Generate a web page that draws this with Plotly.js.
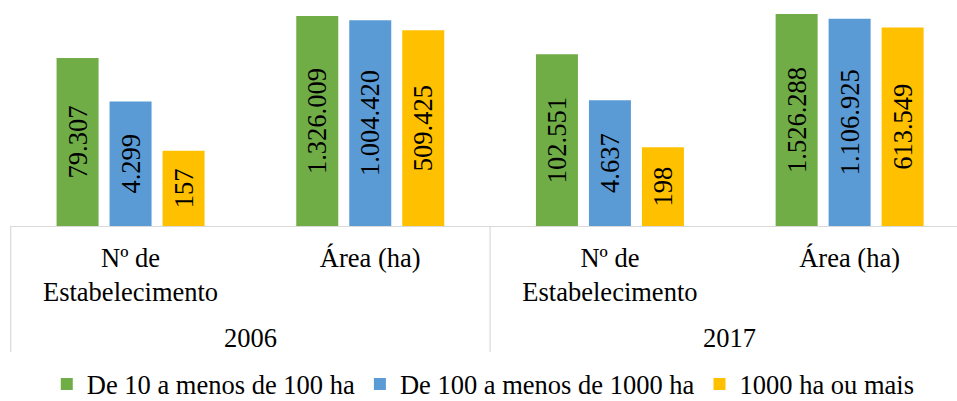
<!DOCTYPE html>
<html>
<head>
<meta charset="utf-8">
<script src="https://cdn.plot.ly/plotly-3.0.1.min.js"></script>
<style>
  html, body { margin: 0; padding: 0; background: #fff; }
  #chart { width: 957px; height: 401px; }
</style>
</head>
<body>
<div id="chart"></div>
<script>
// Census years and the two measures reported for each
const years = ['2006', '2017'];
const measures = ['Nº de<br>Estabelecimento', 'Área (ha)', 'Nº de<br>Estabelecimento', 'Área (ha)'];
const slots = [0, 1, 2, 3];

// Size classes of rural properties
const seriesNames = ['De 10 a menos de 100 ha', 'De 100 a menos de 1000 ha', '1000 ha ou mais'];
const small = [79307, 1326009, 102551, 1526288];
const medium = [4299, 1004420, 4637, 1106925];
const large = [157, 509425, 198, 613549];
const seriesColors = ['#70AD47', '#5B9BD5', '#FFC000'];

const FONT = '"Liberation Serif", Tinos, "Times New Roman", Times, serif';
const FS = 26.5;
const GRID = '#D9D9D9';

const values = [small, medium, large];
const traces = values.map((v, i) => ({
  type: 'bar',
  name: seriesNames[i],
  x: slots,
  y: v,
  marker: { color: seriesColors[i] },
  texttemplate: '%{y:,.0f}',
  textposition: 'inside',
  insidetextanchor: 'middle',
  textangle: -90,
  textfont: { family: FONT, size: FS, color: '#000' },
  hoverinfo: 'skip'
}));

// Year captions under each pair of measures, and the frame dividers between years
const yearCenters = years.map((_, i) => i * 2 + 0.5);
const annotations = years.map((yr, i) => ({
  text: yr,
  xref: 'x',
  yref: 'paper',
  x: yearCenters[i],
  y: -0.497,
  xanchor: 'center',
  yanchor: 'middle',
  showarrow: false,
  font: { family: FONT, size: FS, color: '#000' }
}));
const dividerPos = [-0.5, 1.5, 3.5];
const shapes = dividerPos.map(p => ({
  type: 'line',
  xref: 'x',
  yref: 'paper',
  x0: p, x1: p,
  y0: 0, y1: -0.558,
  line: { color: GRID, width: 1.2 }
}));

const layout = {
  width: 957,
  height: 401,
  margin: { l: 10, r: 0, t: 0, b: 175 },
  paper_bgcolor: '#fff',
  plot_bgcolor: '#fff',
  separators: ',.',
  barmode: 'group',
  bargap: 0.3367,
  bargroupgap: 0.2075,
  font: { family: FONT, size: FS, color: '#000' },
  showlegend: true,
  legend: {
    orientation: 'h',
    xref: 'container',
    yref: 'container',
    x: 0.505,
    xanchor: 'center',
    y: 0.042,
    yanchor: 'middle',
    font: { family: FONT, size: FS, color: '#000' },
    traceorder: 'normal'
  },
  annotations: annotations,
  shapes: shapes,
  xaxis: {
    type: 'linear',
    range: [-0.503, 3.448],
    tickmode: 'array',
    tickvals: slots,
    ticktext: measures,
    ticklabelstandoff: 8,
    showline: true,
    linecolor: GRID,
    linewidth: 1.2,
    ticks: '',
    showgrid: false,
    zeroline: false,
    tickfont: { family: FONT, size: FS, color: '#000' },
    fixedrange: true
  },
  yaxis: {
    type: 'log',
    range: [0, 6.589],
    visible: false,
    showgrid: false,
    zeroline: false,
    fixedrange: true
  }
};

Plotly.newPlot('chart', traces, layout, { displayModeBar: false, staticPlot: true });
</script>
</body>
</html>
